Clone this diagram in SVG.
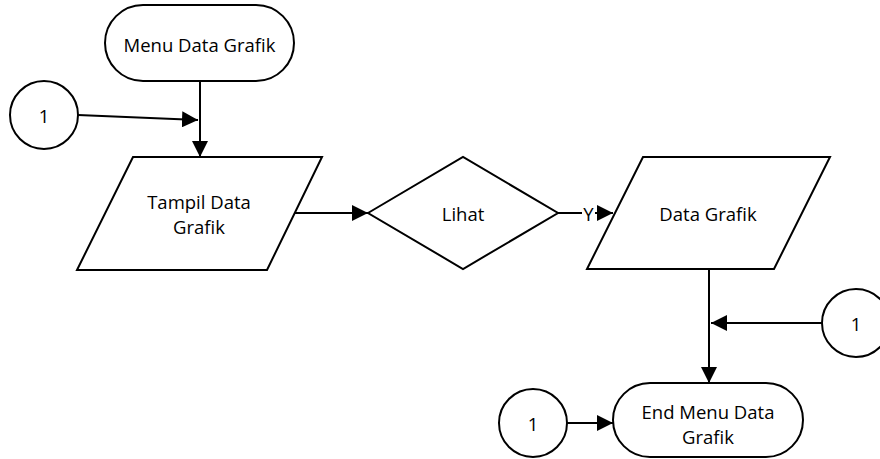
<svg xmlns="http://www.w3.org/2000/svg" width="880" height="459" viewBox="0 0 880 459">
<defs>
<marker id="arr" viewBox="0 0 10 10" refX="10" refY="5" markerWidth="16" markerHeight="16" markerUnits="userSpaceOnUse" orient="auto">
<path d="M0,0 L10,5 L0,10 Z" fill="#000"/>
</marker>
</defs>
<style>
.s{fill:#fff;stroke:#000;stroke-width:2}
.c{fill:none;stroke:#000;stroke-width:2;marker-end:url(#arr)}
text{font-family:"Open Sans","Liberation Sans",sans-serif;font-size:18.5px;fill:#000;text-anchor:middle;dominant-baseline:central}
</style>
<rect width="880" height="459" fill="#fff"/>
<g id="connectors">
<line class="c" x1="200" y1="81" x2="200" y2="157"/>
<line class="c" x1="78" y1="115" x2="198" y2="120"/>
<line class="c" x1="295" y1="213" x2="368" y2="213"/>
<line class="c" x1="558" y1="213" x2="613" y2="213"/>
<line class="c" x1="709" y1="269" x2="709" y2="383"/>
<line class="c" x1="822" y1="323" x2="711" y2="323"/>
<line class="c" x1="567" y1="423" x2="613" y2="423"/>
<rect x="582" y="205" width="13" height="16" fill="#fff"/>
<text x="588.5" y="213">Y</text>
</g>
<g id="start">
<rect class="s" x="105" y="5" width="189" height="76" rx="38" ry="38"/>
<text x="199.5" y="44">Menu Data Grafik</text>
</g>
<g id="conn1a">
<circle class="s" cx="44" cy="115" r="34"/>
<text x="44" y="115">1</text>
</g>
<g id="tampil">
<polygon class="s" points="133,157 322,157 267,270 77,270"/>
<text x="199" y="201">Tampil Data</text>
<text x="199" y="226">Grafik</text>
</g>
<g id="lihat">
<polygon class="s" points="368,213 463,157 558,213 463,269"/>
<text x="463" y="213">Lihat</text>
</g>
<g id="datagrafik">
<polygon class="s" points="643,157 830,157 774,269 587,269"/>
<text x="708" y="213">Data Grafik</text>
</g>
<g id="conn1b">
<circle class="s" cx="856" cy="323" r="34"/>
<text x="856" y="323">1</text>
</g>
<g id="conn1c">
<circle class="s" cx="533" cy="423" r="34"/>
<text x="533" y="423">1</text>
</g>
<g id="end">
<rect class="s" x="613" y="383" width="190" height="74" rx="37" ry="37"/>
<text x="708" y="411">End Menu Data</text>
<text x="708" y="436">Grafik</text>
</g>
</svg>
